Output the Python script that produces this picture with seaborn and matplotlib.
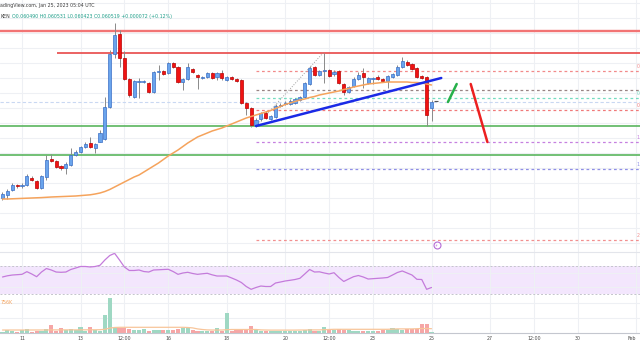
import numpy as np
import pandas as pd
import matplotlib
matplotlib.use("Agg")
import matplotlib.pyplot as plt
import matplotlib.dates as mdates
import seaborn as sns

sns.set_theme(style="white")
plt.rcParams["font.family"] = ["DejaVu Sans"]

# ---------------- data (4h candles) ----------------
candle_start = "2023-01-10 08:00"
opens = [0.06004, 0.060055, 0.06008, 0.060105, 0.0601, 0.060105, 0.06014, 0.060125, 0.06009, 0.060145,
         0.060235, 0.060225, 0.0602, 0.06019, 0.060205, 0.060255, 0.06027, 0.060295, 0.060315, 0.06029,
         0.06032, 0.060335, 0.060495, 0.06076, 0.06086, 0.06074, 0.060635, 0.060545, 0.06062, 0.06062,
         0.060615, 0.06057, 0.06067, 0.060675, 0.060665, 0.060715, 0.060695, 0.06062, 0.060635, 0.060685,
         0.060655, 0.06064, 0.060645, 0.060665, 0.060645, 0.060665, 0.06063, 0.060645, 0.060635, 0.06063,
         0.060515, 0.06049, 0.060405, 0.060435, 0.060465, 0.060435, 0.060445, 0.0605, 0.06051, 0.06051,
         0.060515, 0.06053, 0.060545, 0.06061, 0.060695, 0.060655, 0.060675, 0.06068, 0.06066, 0.060675,
         0.06061, 0.06057, 0.0606, 0.060635, 0.060665, 0.060615, 0.060635, 0.060645, 0.060635, 0.060625,
         0.060645, 0.060655, 0.060695, 0.06072, 0.06071, 0.06069, 0.06065, 0.060645, 0.06049]
highs = [0.06007, 0.060085, 0.060115, 0.06011, 0.060115, 0.06016, 0.06015, 0.06013, 0.060155, 0.060255,
         0.06026, 0.06023, 0.060205, 0.06022, 0.06029, 0.06028, 0.0603, 0.06032, 0.060345, 0.060315,
         0.06038, 0.060545, 0.06078, 0.060915, 0.06088, 0.060775, 0.06064, 0.06063, 0.06064, 0.06063,
         0.06062, 0.060675, 0.060705, 0.06068, 0.06072, 0.06072, 0.0607, 0.06064, 0.060715, 0.06069,
         0.06066, 0.06065, 0.06067, 0.06067, 0.06067, 0.06068, 0.06065, 0.06065, 0.06064, 0.060635,
         0.06052, 0.060495, 0.06044, 0.06047, 0.060475, 0.060455, 0.06051, 0.060515, 0.060525, 0.060535,
         0.06054, 0.06055, 0.06062, 0.0607, 0.0607, 0.06068, 0.060765, 0.060685, 0.06068, 0.06068,
         0.060615, 0.0606, 0.060645, 0.06067, 0.06069, 0.060645, 0.060645, 0.060655, 0.06064, 0.060655,
         0.060665, 0.060705, 0.060745, 0.06073, 0.060715, 0.060695, 0.060655, 0.06065, 0.060531]
lows = [0.06003, 0.060035, 0.060075, 0.06009, 0.06009, 0.0601, 0.060125, 0.060085, 0.060085, 0.06013,
        0.06022, 0.06019, 0.06018, 0.06016, 0.0602, 0.06025, 0.060265, 0.06029, 0.06029, 0.060265,
        0.06032, 0.06033, 0.06049, 0.06074, 0.060695, 0.06063, 0.060545, 0.06054, 0.06054, 0.060615,
        0.060565, 0.060565, 0.06063, 0.060655, 0.06066, 0.06069, 0.060615, 0.06058, 0.06063, 0.060665,
        0.060585, 0.060635, 0.06064, 0.060635, 0.06063, 0.06063, 0.060625, 0.06063, 0.06062, 0.06051,
        0.060455, 0.060395, 0.060395, 0.060425, 0.060435, 0.06043, 0.06044, 0.060495, 0.060505, 0.060505,
        0.06051, 0.060525, 0.06054, 0.060605, 0.06065, 0.06065, 0.060615, 0.060645, 0.06065, 0.06061,
        0.060555, 0.060565, 0.060595, 0.06063, 0.06059, 0.06061, 0.06061, 0.06063, 0.06062, 0.06059,
        0.06064, 0.06065, 0.06069, 0.0607, 0.06068, 0.06064, 0.060635, 0.0604, 0.060423]
closes = [0.06006, 0.060075, 0.060105, 0.0601, 0.060105, 0.06015, 0.06013, 0.06009, 0.06015, 0.06023,
          0.060225, 0.060195, 0.06019, 0.06021, 0.060255, 0.06027, 0.060295, 0.06031, 0.060295, 0.06031,
          0.060365, 0.060495, 0.06076, 0.060855, 0.06074, 0.060635, 0.060555, 0.060625, 0.060625, 0.060625,
          0.06057, 0.06067, 0.060675, 0.06066, 0.060715, 0.060695, 0.06062, 0.060635, 0.060695, 0.06067,
          0.060645, 0.060645, 0.060665, 0.06064, 0.060665, 0.06064, 0.060645, 0.060635, 0.060625, 0.060515,
          0.06049, 0.060405, 0.06043, 0.060465, 0.06044, 0.06045, 0.0605, 0.060505, 0.060515, 0.060525,
          0.060535, 0.060545, 0.060615, 0.06069, 0.060655, 0.060675, 0.06068, 0.06065, 0.06067, 0.060615,
          0.06057, 0.060595, 0.060635, 0.060655, 0.060645, 0.06064, 0.06064, 0.060635, 0.060625, 0.06065,
          0.06066, 0.060695, 0.060725, 0.060705, 0.060685, 0.060645, 0.06064, 0.060455, 0.060519]
moving_avg = [0.060035, 0.060035, 0.060036, 0.060037, 0.060038, 0.060039, 0.06004, 0.060041, 0.060042, 0.0600435,
              0.060045, 0.060046, 0.060047, 0.060048, 0.060049, 0.06005, 0.060052, 0.060054, 0.060056, 0.06006,
              0.060065, 0.0600725, 0.0600825, 0.060095, 0.0601075, 0.06012, 0.0601325, 0.060145, 0.060155, 0.06017,
              0.060185, 0.0602, 0.060215, 0.0602325, 0.06025, 0.060265, 0.06028, 0.0602975, 0.060315, 0.06033,
              0.060345, 0.060355, 0.060365, 0.060375, 0.0603825, 0.06039, 0.0604, 0.06041, 0.06042, 0.06043,
              0.06044, 0.0604475, 0.060455, 0.0604625, 0.06047, 0.0604775, 0.0604875, 0.0604975, 0.0605075, 0.060515,
              0.0605225, 0.06053, 0.060535, 0.0605425, 0.0605475, 0.060555, 0.06056, 0.060565, 0.06057, 0.060575,
              0.0605825, 0.0605875, 0.060595, 0.0606, 0.060605, 0.06061, 0.0606125, 0.060615, 0.0606175, 0.06062,
              0.06062, 0.06062, 0.06062, 0.06062, 0.0606175, 0.0606175, 0.060615, 0.06061, 0.060605]
rsi_values = [54.3, 56, 57.1, 57.6, 58.1, 61.9, 58.6, 54.7, 61.4, 66.4,
              64.3, 61.4, 61, 61.4, 65, 67.1, 69.3, 69.3, 68.6, 69.3,
              71, 78.6, 85, 88.1, 78.6, 68.6, 63.6, 63.6, 64.3, 62.1,
              61.4, 64.3, 64.6, 65, 65.3, 62.1, 58.1, 60, 61, 59.3,
              58.1, 58.9, 59.6, 57.4, 55.7, 55.7, 55.7, 52.9, 50, 46.4,
              40.7, 36.7, 39.3, 41.4, 40.7, 40.7, 45.7, 47.1, 48.6, 49.6,
              50.7, 52.4, 58.6, 65, 61.4, 61.7, 60, 58.6, 60.4, 53.6,
              47.9, 51.4, 54.7, 56.4, 54.3, 51.4, 51.9, 52.4, 52.9, 53.6,
              57.1, 60.7, 62.9, 60, 57.1, 51, 50.7, 36.7, 39.3]
volume_k = [375, 750, 500, 375, 750, 1000, 375, 625, 625, 1000,
            2000, 625, 1250, 750, 1125, 750, 1500, 500, 1500, 750,
            625, 4500, 8750, 1250, 1250, 1250, 1000, 750, 750, 1000,
            500, 875, 875, 750, 875, 875, 1125, 1250, 1250, 750,
            500, 500, 500, 500, 1250, 500, 5000, 500, 1125, 1125,
            1125, 1750, 750, 625, 625, 500, 500, 500, 500, 625,
            500, 625, 750, 1125, 625, 500, 1500, 750, 750, 1000,
            750, 750, 500, 500, 500, 500, 500, 500, 750, 750,
            1250, 1125, 750, 1000, 1000, 1000, 2250, 2250, 375]
volume_ma_k = [820, 820, 820, 820, 820, 830, 830, 830, 830, 840,
               850, 850, 850, 860, 860, 860, 870, 870, 880, 880,
               900, 1000, 1300, 1450, 1500, 1500, 1500, 1500, 1500, 1500,
               1500, 1500, 1500, 1500, 1500, 1500, 1500, 1500, 1450, 1350,
               1100, 950, 850, 820, 820, 820, 900, 950, 950, 950,
               950, 950, 950, 850, 820, 800, 800, 800, 800, 800,
               800, 820, 820, 850, 850, 850, 900, 950, 1000, 1000,
               1000, 1000, 1000, 1000, 1000, 1000, 1000, 1000, 1000, 1000,
               1050, 1100, 1100, 1100, 1100, 1150, 1200, 1200, 1150]

# horizontal levels / drawings
resistance_top = 0.060875
resistance_mid = 0.060765
resistance_mid_start = "2023-01-12 05:00"
support_1 = 0.0604
support_2 = 0.060255
fib_start = "2023-01-19 00:00"
fib_high = 0.06076
fib_low = 0.060405
fib_ratios = [0.236, 0.5, 0.618, 0.786, 1.236, 1.618, 2.618]
fib_edge_marks = ["0", "", "0", "0", "1", "1", "2"]   # visible first characters of the level labels
fib_colors = ["#f28a8a", "#9a8585", "#74dcc0", "#f07a7a", "#c680e0", "#8f8fe6", "#f29090"]
trend_pts = (["2023-01-19 00:00", "2023-01-25 08:00"], [0.0604, 0.06064])
fib_diag = (["2023-01-19 00:00", "2023-01-21 07:00"], [0.0604, 0.060765])
green_arrow = (["2023-01-25 13:30", "2023-01-25 20:40"], [0.06052, 0.06061])
red_arrow = (["2023-01-26 08:10", "2023-01-26 21:50"], [0.06061, 0.06032])
tick_dates = ["2023-01-11", "2023-01-13", "2023-01-14 12:00", "2023-01-16", "2023-01-18", "2023-01-20",
              "2023-01-21 12:00", "2023-01-23", "2023-01-25", "2023-01-27", "2023-01-28 12:00",
              "2023-01-30", "2023-02-01"]
tick_labels = ["11", "13", "12:00", "16", "18", "20", "12:00", "23", "25", "27", "12:00", "30", "Feb"]

# ---------------- frame ----------------
times = pd.date_range(candle_start, periods=len(opens), freq="4h")
df = pd.DataFrame({"time": times, "open": opens, "high": highs, "low": lows, "close": closes,
                   "ma": moving_avg, "rsi": rsi_values, "volume": volume_k, "vol_ma": volume_ma_k})
df["t"] = mdates.date2num(df["time"])
df["up"] = df["close"] >= df["open"]


def tn(s):
    return mdates.date2num(pd.Timestamp(s))


x0, x1 = tn("2023-01-10 05:57"), tn("2023-02-01 03:04")

fig = plt.figure(figsize=(6.4, 3.6), dpi=100)
fig.patch.set_facecolor("white")
H = 360.0


def rect(top, bottom):
    return [0, 1 - bottom / H, 1, (bottom - top) / H]


ax = fig.add_axes(rect(0, 252))
ax_rsi = fig.add_axes(rect(252, 298), sharex=ax)
ax_vol = fig.add_axes(rect(298, 333.3), sharex=ax)

grid_c = "#eef0f4"
for a in (ax, ax_rsi, ax_vol):
    a.set_facecolor("white")
    for s in a.spines.values():
        s.set_visible(False)
    a.set_axisbelow(True)
    a.grid(axis="x", color=grid_c, lw=0.8)
    a.tick_params(left=False, bottom=False, labelleft=False, labelbottom=False)

ax.set_xlim(x0, x1)
ax_vol.set_xticks([tn(d) for d in tick_dates])

# ---------------- price pane ----------------
ax.set_ylim(0.05977, 0.06103)
ax.set_yticks(np.arange(0.059815, 0.06105, 0.000075))
ax.grid(axis="y", color=grid_c, lw=0.8)

ax.axhline(resistance_top, color="#f27474", lw=1.7, zorder=2)
ax.hlines(resistance_mid, tn(resistance_mid_start), x1, color="#e84848", lw=1.2, zorder=2)
ax.axhline(support_1, color="#4caf50", lw=1.1, zorder=2)
ax.axhline(support_2, color="#4caf50", lw=1.1, zorder=2)
ax.axhline(closes[-1], color="#c9d8f2", lw=0.8, ls=(0, (3, 2)), zorder=1)

for r, lab, c in zip(fib_ratios, fib_edge_marks, fib_colors):
    lvl = fib_high - r * (fib_high - fib_low)
    ax.hlines(lvl, tn(fib_start), x1, color=c, lw=0.9, ls=(0, (2.2, 2.2)), zorder=2)
    if lab:
        ax.annotate(lab, xy=(636.3 / 640, lvl), xycoords=("axes fraction", "data"),
                    xytext=(0, 3.2), textcoords="offset points", fontsize=3.4, color=c,
                    ha="left", va="center", annotation_clip=False)

ax.plot([tn(d) for d in fib_diag[0]], fib_diag[1], color="#a0a0a0", lw=0.7, ls=(0, (1, 1.6)), zorder=3)

# candles
ax.vlines(df["t"], df["low"], df["high"], color="#8a8a8a", lw=0.7, zorder=4)
body_bottom = np.minimum(df["open"], df["close"])
body_h = np.abs(df["close"] - df["open"])
faces = ["#6aa4ec" if u else "#f01212" for u in df["up"]]
edges = ["#3a6fc6" if u else "#b80000" for u in df["up"]]
ax.bar(df["t"], body_h, bottom=body_bottom, width=0.11, color=faces, edgecolor=edges,
       linewidth=0.5, zorder=5)

sns.lineplot(data=df, x="t", y="ma", ax=ax, color="#f5a35c", lw=1.1, zorder=6, legend=False)

ax.plot([tn(d) for d in trend_pts[0]], trend_pts[1], color="#1a2ae6", lw=1.8, zorder=7)
ax.plot([tn(d) for d in green_arrow[0]], green_arrow[1], color="#26b04a", lw=1.8, zorder=7)
ax.plot([tn(d) for d in red_arrow[0]], red_arrow[1], color="#ec2020", lw=1.8, zorder=7)
ax.hlines(0.0605265, tn("2023-01-25 02:00"), tn("2023-01-25 05:20"), color="#555555", lw=0.8, zorder=7)

ax.plot([tn("2023-01-25 04:06")], [0.0598025], marker="o", ms=5, mfc="white", mec="#b56cd6",
        mew=0.8, zorder=8)
ax.text(tn("2023-01-25 04:06"), 0.0598025, "\u26a1", fontsize=3, color="#b56cd6",
        ha="center", va="center", zorder=9)
ax.set_xlabel("")
ax.set_ylabel("")

# ---------------- RSI pane ----------------
ax_rsi.set_ylim(24.2857, 90)
ax_rsi.set_yticks([40, 60])
ax_rsi.grid(axis="y", color=grid_c, lw=0.8)
ax_rsi.axhspan(30, 70, color="#f3e6fd", lw=0, zorder=0)
ax_rsi.axhline(70, color="#c4c4cc", lw=0.7, ls=(0, (2, 2)))
ax_rsi.axhline(30, color="#c4c4cc", lw=0.7, ls=(0, (2, 2)))
ax_rsi.spines["top"].set_visible(True)
ax_rsi.spines["top"].set_color("#e3e5eb")
ax_rsi.spines["top"].set_linewidth(0.8)
sns.lineplot(data=df, x="t", y="rsi", ax=ax_rsi, color="#c47bdb", lw=0.9, legend=False)
ax_rsi.set_xlabel("")
ax_rsi.set_ylabel("")

# ---------------- volume pane ----------------
ax_vol.set_ylim(0, 8825)
ax_vol.set_yticks([3900, 7650])
ax_vol.grid(axis="y", color=grid_c, lw=0.8)
vcols = ["#9fd8c3" if u else "#f6a6a6" for u in df["up"]]
ax_vol.bar(df["t"], df["volume"], width=0.14, color=vcols, lw=0, zorder=2)
sns.lineplot(data=df, x="t", y="vol_ma", ax=ax_vol, color="#f8c59a", lw=0.9, legend=False, zorder=3)
ax_vol.set_xlabel("")
ax_vol.set_ylabel("")
ax_vol.spines["bottom"].set_visible(True)
ax_vol.spines["bottom"].set_color("#c4c7cf")
ax_vol.spines["bottom"].set_linewidth(0.8)
ax_vol.tick_params(labelbottom=True, length=0, pad=2.0)
ax_vol.set_xticklabels(tick_labels, fontsize=3.4, color="#4a4a4a")
last_lab = ax_vol.get_xticklabels()[-1]
last_lab.set_horizontalalignment("right")
ax.set_xlim(x0, x1)

# ---------------- header texts (visible parts) ----------------
fig.text(0.5 / 640, 1 - 5.7 / H, "adingView.com, Jan 25, 2023 05:04 UTC", fontsize=3.4,
         color="#3c3c3c", ha="left", va="center")
fig.text(0.5 / 640, 1 - 16.7 / H, "KEN", fontsize=3.4, color="#3c3c3c", ha="left", va="center")
hdr = (f"O{opens[-1]:.6f} H{highs[-1]:.6f} L{lows[-1]:.6f} C{closes[-1]:.6f} "
       f"+0.000072 (+0.12%)")
fig.text(11.5 / 640, 1 - 16.7 / H, hdr, fontsize=3.4, color="#1f9e89", ha="left", va="center")
fig.text(0.5 / 640, 1 - 302.7 / H, "756K", fontsize=3.4, color="#f5a35c", ha="left", va="center")

fig.savefig("out.png", dpi=100, facecolor="white")
